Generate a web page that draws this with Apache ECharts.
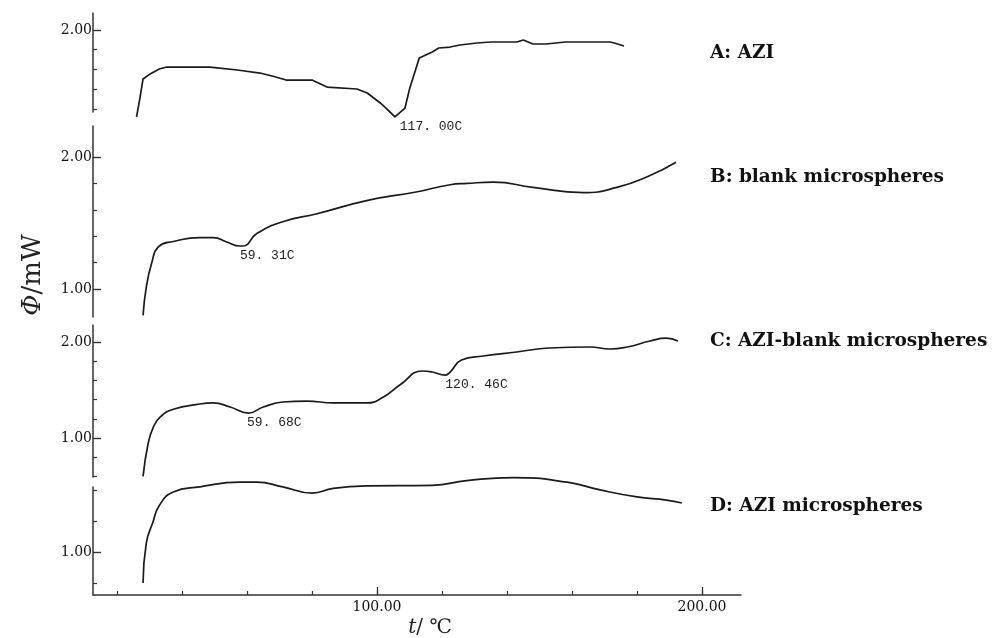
<!DOCTYPE html>
<html><head><meta charset="utf-8">
<script src="https://cdn.jsdelivr.net/npm/echarts@6/dist/echarts.min.js"></script>
<style>html,body{margin:0;padding:0;background:#fff}#c{width:992px;height:638px}</style>
</head><body><div id="c"></div>
<script>
// ---------- DATA ----------
const seriesNames = ['A: AZI', 'B: blank microspheres', 'C: AZI-blank microspheres', 'D: AZI microspheres'];

const tempA = [26, 27, 28, 30, 33, 35.3, 48.6, 57, 64, 68, 72, 80, 84.6, 93.8, 97, 101, 103, 105.5, 108.6, 110, 113, 117, 119, 122.5, 125.5, 130.7, 135, 143, 145, 148, 152, 158, 171.7, 173, 176];
const valA  = [1.117, 1.30, 1.503, 1.55, 1.604, 1.624, 1.624, 1.594, 1.563, 1.53, 1.492, 1.492, 1.421, 1.401, 1.36, 1.259, 1.20, 1.117, 1.208, 1.40, 1.716, 1.777, 1.817, 1.827, 1.848, 1.868, 1.878, 1.878, 1.898, 1.858, 1.858, 1.878, 1.878, 1.868, 1.838];

const tempB = [28, 29, 30.7, 32.7, 37.3, 45.5, 49.6, 53.8, 57.8, 58.8, 63, 71, 81.5, 96.8, 112, 122.5, 127.7, 135.8, 148, 163.4, 173.8, 184, 192];
const valB  = [0.80, 1.015, 1.20, 1.32, 1.36, 1.39, 1.39, 1.356, 1.326, 1.326, 1.42, 1.51, 1.57, 1.67, 1.735, 1.79, 1.80, 1.81, 1.77, 1.73, 1.77, 1.86, 1.96];

const tempC = [28, 29.6, 31.2, 33.3, 37.3, 45.5, 49.6, 54.8, 60.4, 65, 71, 78.4, 86.5, 96.8, 102, 107, 114, 117, 121, 122.5, 126, 132.7, 143, 153, 165.5, 171.7, 177, 184, 189, 192.6];
const valC  = [0.60, 0.948, 1.115, 1.22, 1.30, 1.354, 1.365, 1.323, 1.26, 1.323, 1.375, 1.385, 1.365, 1.365, 1.427, 1.552, 1.698, 1.6875, 1.656, 1.6875, 1.8125, 1.854, 1.896, 1.9375, 1.948, 1.927, 1.948, 2.01, 2.04, 2.01];

const tempD = [28, 29, 31, 33, 37.3, 45.5, 57.8, 63, 71, 80, 86.5, 96.8, 117, 127.6, 141.8, 158.5, 168.6, 180, 189, 193.8];
const valD  = [0.80, 1.058, 1.19, 1.30, 1.387, 1.42, 1.45, 1.45, 1.42, 1.38, 1.41, 1.426, 1.43, 1.46, 1.48, 1.45, 1.40, 1.355, 1.335, 1.316];

// axis tick values
const xMinorTicks = [20, 40, 60, 80, 100, 120, 140, 160, 180, 200];
const xMajorTicks = [100, 200];
const yMajorA = [2.0];            const yMinorA = [1.2, 1.4, 1.6, 1.8];
const yMajorB = [1.0, 2.0];       const yMinorB = [1.2, 1.4, 1.6, 1.8];
const yMajorC = [1.0, 2.0];       const yMinorC = [0.6, 0.8, 1.2, 1.4, 1.6, 1.8];
const yMajorD = [1.0];            const yMinorD = [0.8, 1.2, 1.4];

// peak annotations (anchor point in data space)
const annoATemp = [107];   const annoAVal = [1.17];  const annoAText = ['117. 00C'];
const annoBTemp = [57.8];  const annoBVal = [1.25];  const annoBText = ['59. 31C'];
const annoCTemp = [60, 121]; const annoCVal = [1.156, 1.552]; const annoCText = ['59. 68C', '120. 46C'];
const annoDTemp = [];      const annoDVal = [];      const annoDText = [];

// ---------- LAYOUT ----------
const X_MIN = 12.6, X_MAX = 212;
const panels = [
  {top: 13,  height: 99,  yMin: 1.1675, yMax: 2.1726, major: yMajorA, minor: yMinorA, t: tempA, v: valA, smooth: false, at: annoATemp, av: annoAVal, ax: annoAText, off: [0, 15]},
  {top: 126, height: 191, yMin: 0.788,  yMax: 2.235,  major: yMajorB, minor: yMinorB, t: tempB, v: valB, smooth: 0.5, at: annoBTemp, av: annoBVal, ax: annoBText, off: [0, 0]},
  {top: 325, height: 152, yMin: 0.594,  yMax: 2.177,  major: yMajorC, minor: yMinorC, t: tempC, v: valC, smooth: 0.5, at: annoCTemp, av: annoCVal, ax: annoCText, off: [0, 0]},
  {top: 487, height: 108, yMin: 0.723,  yMax: 1.419,  major: yMajorD, minor: yMinorD, t: tempD, v: valD, smooth: 0.5, at: annoDTemp, av: annoDVal, ax: annoDText, off: [0, 0]}
];
const labelYs = [55, 179, 343, 508];

const AX = '#333';
const FONT = 'DejaVu Serif';
const grid = [], xAxis = [], yAxis = [], series = [];

panels.forEach((p, i) => {
  grid.push({left: 93, width: 648, top: p.top, height: p.height});
  const isBottom = i === panels.length - 1;
  xAxis.push({
    type: 'value', gridIndex: i, min: X_MIN, max: X_MAX, show: isBottom,
    axisLine: {show: true, lineStyle: {color: AX, width: 1.5}},
    axisTick: {show: true, inside: true, length: 4, customValues: xMinorTicks, lineStyle: {color: AX, width: 1.2}},
    axisLabel: {show: false}, splitLine: {show: false}
  });
  yAxis.push({
    type: 'value', gridIndex: i, min: p.yMin, max: p.yMax, position: 'left',
    axisLine: {show: true, onZero: false, lineStyle: {color: AX, width: 1.5}},
    axisTick: {show: true, inside: true, length: 8, customValues: p.major, lineStyle: {color: AX, width: 1.4}},
    axisLabel: {show: true, customValues: p.major, margin: 1, formatter: v => v.toFixed(2),
      fontFamily: FONT, fontSize: 14, color: '#111'},
    splitLine: {show: false}
  });
});
panels.forEach((p, i) => {
  yAxis.push({
    type: 'value', gridIndex: i, min: p.yMin, max: p.yMax, position: 'left',
    axisLine: {show: false},
    axisTick: {show: true, inside: true, length: 4, customValues: p.minor, lineStyle: {color: AX, width: 1.2}},
    axisLabel: {show: false}, splitLine: {show: false}
  });
});
xAxis.push({
  type: 'value', gridIndex: 3, min: X_MIN, max: X_MAX, position: 'bottom',
  axisLine: {show: false},
  axisTick: {show: true, inside: true, length: 8, customValues: xMajorTicks, lineStyle: {color: AX, width: 1.3}},
  axisLabel: {show: true, customValues: xMajorTicks, margin: 5, formatter: v => v.toFixed(2),
    fontFamily: FONT, fontSize: 14, color: '#111'},
  splitLine: {show: false}
});

panels.forEach((p, i) => {
  series.push({
    type: 'line', name: seriesNames[i], xAxisIndex: i, yAxisIndex: i,
    data: p.t.map((t, k) => [t, p.v[k]]),
    showSymbol: false, smooth: p.smooth, clip: false,
    lineStyle: {color: '#1a1a1a', width: 1.7},
    silent: true,
    markPoint: {
      symbol: 'circle', symbolSize: 0, silent: true,
      label: {show: true, position: [0, 0], offset: p.off, align: 'left', verticalAlign: 'middle',
        fontFamily: 'Liberation Mono', fontSize: 13, color: '#222',
        formatter: prm => prm.data.txt},
      data: p.at.map((t, k) => ({coord: [t, p.av[k]], txt: p.ax[k]}))
    }
  });
});

const graphic = [];
seriesNames.forEach((n, i) => {
  graphic.push({type: 'text', left: 710, top: labelYs[i] - 11,
    style: {text: n, fontFamily: FONT, fontWeight: 'bold', fontSize: 18.5, fill: '#111'}});
});
graphic.push({type: 'text', x: 33, y: 275, rotation: Math.PI / 2,
  style: {text: '{i|Φ}/mW', align: 'center', verticalAlign: 'middle', fontFamily: FONT, fontSize: 26, fill: '#222',
    rich: {i: {fontStyle: 'italic', fontFamily: FONT, fontSize: 26, fill: '#222'}}}});
graphic.push({type: 'text', x: 430, y: 628,
  style: {text: '{i|t}/ ℃', align: 'center', verticalAlign: 'middle', fontFamily: FONT, fontSize: 20, fill: '#222',
    rich: {i: {fontStyle: 'italic', fontFamily: FONT, fontSize: 20, fill: '#222'}}}});

const chart = echarts.init(document.getElementById('c'));
chart.setOption({animation: false, backgroundColor: '#fff', grid, xAxis, yAxis, series, graphic});
</script></body></html>
